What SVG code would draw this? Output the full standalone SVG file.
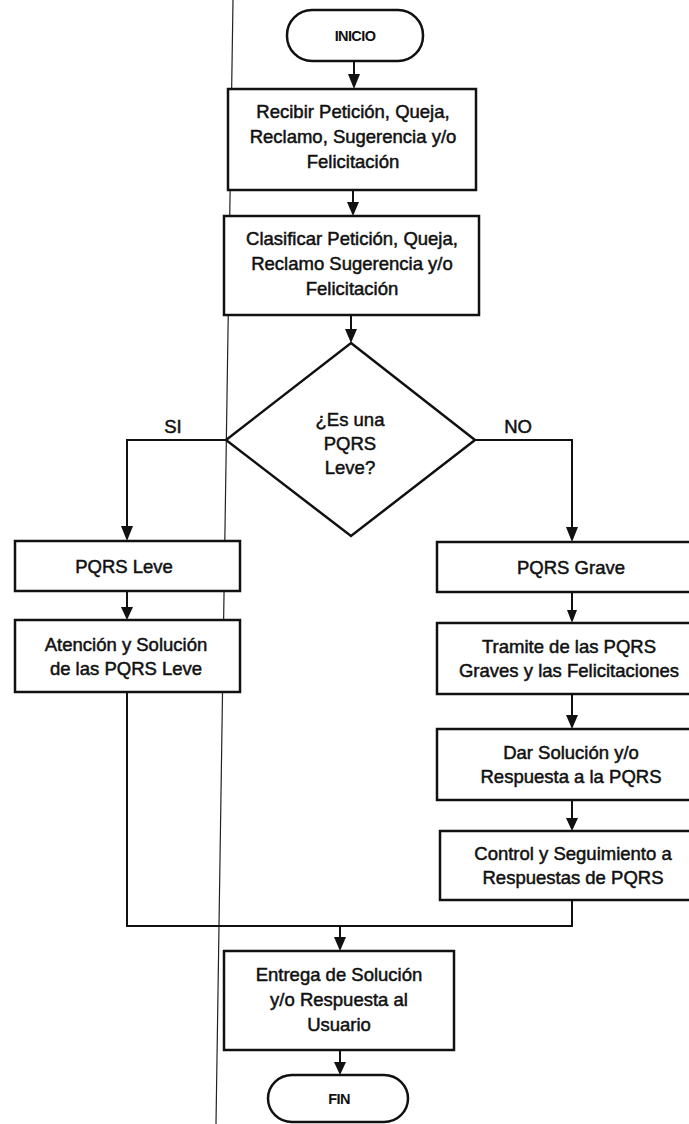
<svg xmlns="http://www.w3.org/2000/svg" width="689" height="1124" viewBox="0 0 689 1124">
<defs>
<style>
.box{fill:#fff;stroke:#111;stroke-width:2.5}
.term{fill:#fff;stroke:#111;stroke-width:2.5}
.t{font-family:"Liberation Sans",Arial,sans-serif;font-size:18.5px;fill:#111;stroke:#111;stroke-width:0.5;text-anchor:middle}
.tt{font-family:"Liberation Sans",Arial,sans-serif;font-size:14.5px;font-weight:bold;fill:#111;text-anchor:middle;letter-spacing:-0.6px}
.c{fill:none;stroke:#111;stroke-width:2}
</style>
</defs>
<rect width="689" height="1124" fill="#fff"/>
<line x1="233" y1="0" x2="216" y2="1124" stroke="#222" stroke-width="1.2"/>
<g id="connectors">
<line class="c" x1="354" y1="61" x2="354" y2="74"/>
<path d="M348,74 L360,74 L354,89 Z" fill="#111"/>
<line class="c" x1="353" y1="190" x2="353" y2="202"/>
<path d="M347,202 L359,202 L353,216 Z" fill="#111"/>
<line class="c" x1="351" y1="315" x2="351" y2="329"/>
<path d="M345,329 L357,329 L351,343 Z" fill="#111"/>
<path class="c" d="M226,440 H127 V526"/>
<path d="M121,526 L133,526 L127,541 Z" fill="#111"/>
<text class="t" x="173" y="433">SI</text>
<path class="c" d="M475,440 H572 V527"/>
<path d="M566,527 L578,527 L572,542 Z" fill="#111"/>
<text class="t" x="518" y="433">NO</text>
<line class="c" x1="127" y1="591" x2="127" y2="607"/>
<path d="M121,607 L133,607 L127,620 Z" fill="#111"/>
<line class="c" x1="572" y1="592" x2="572" y2="610"/>
<path d="M567,610 L577,610 L572,623 Z" fill="#111"/>
<line class="c" x1="572" y1="694" x2="572" y2="715"/>
<path d="M566,715 L578,715 L572,729 Z" fill="#111"/>
<line class="c" x1="572" y1="800" x2="572" y2="818"/>
<path d="M566,818 L578,818 L572,831 Z" fill="#111"/>
<path class="c" d="M127,692 V926 H572 V900" stroke-width="1.8"/>
<line class="c" x1="340" y1="926" x2="340" y2="937"/>
<path d="M334,937 L346,937 L340,951 Z" fill="#111"/>
<line class="c" x1="340" y1="1050" x2="340" y2="1062"/>
<path d="M334,1062 L346,1062 L340,1075 Z" fill="#111"/>
</g>
<g id="inicio">
<rect class="term" x="287" y="10" width="136" height="51" rx="25"/>
<text class="tt" x="355" y="41">INICIO</text>
</g>
<g id="recibir">
<rect class="box" x="228" y="89" width="248" height="101"/>
<text class="t" x="353" y="118">Recibir Petición, Queja,</text>
<text class="t" x="353" y="143">Reclamo, Sugerencia y/o</text>
<text class="t" x="353" y="168">Felicitación</text>
</g>
<g id="clasificar">
<rect class="box" x="224" y="216" width="255" height="99"/>
<text class="t" x="352" y="245">Clasificar Petición, Queja,</text>
<text class="t" x="352" y="270">Reclamo Sugerencia y/o</text>
<text class="t" x="352" y="295">Felicitación</text>
</g>
<g id="decision">
<polygon class="box" points="351,343 475,440 351,536 226,440"/>
<text class="t" x="350" y="426">¿Es una</text>
<text class="t" x="350" y="450">PQRS</text>
<text class="t" x="350" y="474">Leve?</text>
</g>
<g id="pqrs-leve">
<rect class="box" x="15" y="541" width="225" height="50"/>
<text class="t" x="124" y="573">PQRS Leve</text>
</g>
<g id="atencion">
<rect class="box" x="15" y="620" width="225" height="72"/>
<text class="t" x="126" y="651">Atención y Solución</text>
<text class="t" x="126" y="675">de las PQRS Leve</text>
</g>
<g id="pqrs-grave">
<rect class="box" x="437" y="542" width="270" height="50"/>
<text class="t" x="571" y="574">PQRS Grave</text>
</g>
<g id="tramite">
<rect class="box" x="437" y="623" width="270" height="71"/>
<text class="t" x="569" y="653">Tramite de las PQRS</text>
<text class="t" x="569" y="677">Graves y las Felicitaciones</text>
</g>
<g id="dar-solucion">
<rect class="box" x="437" y="729" width="270" height="71"/>
<text class="t" x="571" y="759">Dar Solución y/o</text>
<text class="t" x="571" y="783">Respuesta a la PQRS</text>
</g>
<g id="control">
<rect class="box" x="440" y="831" width="270" height="69"/>
<text class="t" x="573" y="860">Control y Seguimiento a</text>
<text class="t" x="573" y="884">Respuestas de PQRS</text>
</g>
<g id="entrega">
<rect class="box" x="224" y="951" width="230" height="99"/>
<text class="t" x="339" y="981">Entrega de Solución</text>
<text class="t" x="339" y="1006">y/o Respuesta al</text>
<text class="t" x="339" y="1031">Usuario</text>
</g>
<g id="fin">
<rect class="term" x="268" y="1075" width="140" height="47" rx="24"/>
<text class="tt" x="339" y="1104">FIN</text>
</g>
</svg>
